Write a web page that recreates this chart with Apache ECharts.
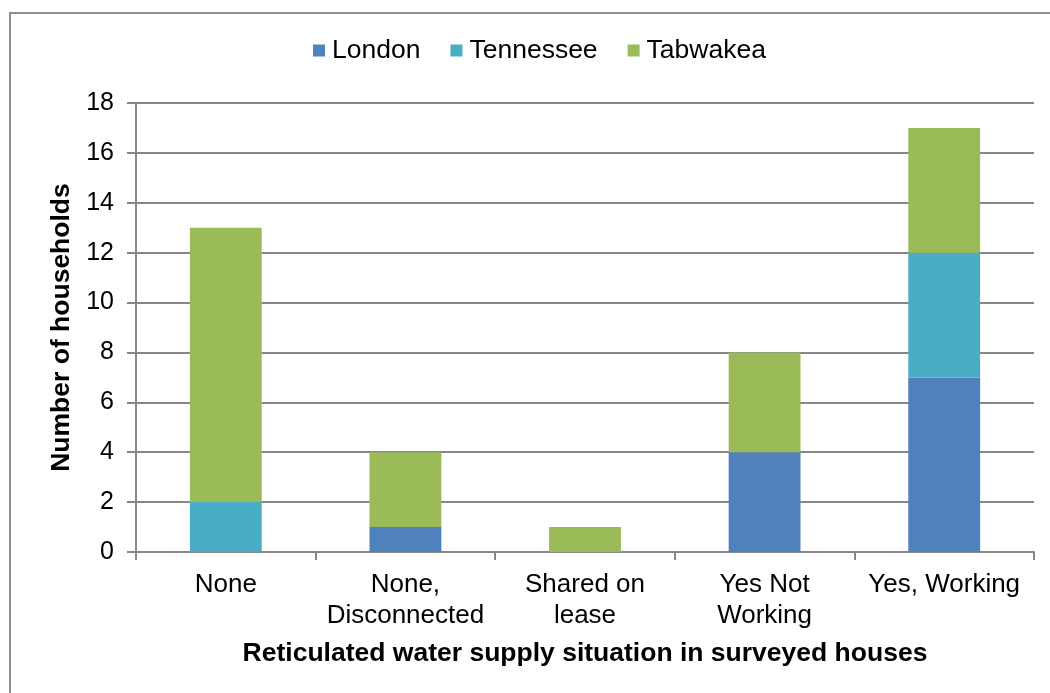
<!DOCTYPE html>
<html>
<head>
<meta charset="utf-8">
<script src="https://cdn.jsdelivr.net/npm/echarts@6/dist/echarts.min.js"></script>
<style>
  html, body { margin: 0; padding: 0; background: #fff; }
  #chart { width: 1050px; height: 693px; }
</style>
</head>
<body>
<div id="chart"></div>
<script>
// Household water supply situation by location
const categories = ['None', 'None,\nDisconnected', 'Shared on\nlease', 'Yes Not\nWorking', 'Yes, Working'];
const london = [0, 1, 0, 4, 7];
const tennessee = [2, 0, 0, 0, 5];
const tabwakea = [11, 3, 1, 4, 5];
const yTicks = { min: 0, max: 18, interval: 2 };

const font = '"Liberation Sans", Arial, sans-serif';
const axisGray = '#878787';

const chart = echarts.init(document.getElementById('chart'), null, { renderer: 'canvas' });

function barSeries(name, data, color) {
  return {
    name: name,
    type: 'bar',
    stack: 'total',
    data: data,
    barWidth: '40%',
    itemStyle: { color: color },
    emphasis: { disabled: true }
  };
}

chart.setOption({
  animation: false,
  backgroundColor: '#ffffff',
  textStyle: { fontFamily: font },
  graphic: [{
    type: 'rect',
    shape: { x: 10, y: 13, width: 1100, height: 760 },
    style: { fill: 'none', stroke: '#8f8f8f', lineWidth: 2 },
    silent: true
  }],
  legend: {
    left: 313,
    top: 37,
    padding: 0,
    itemWidth: 12,
    itemHeight: 12,
    itemGap: 30,
    icon: 'rect',
    textStyle: { fontFamily: font, fontSize: 26.5, color: '#000', padding: [0, 0, 0, 2] },
    data: ['London', 'Tennessee', 'Tabwakea']
  },
  grid: { left: 136, right: 16, top: 103, bottom: 141, containLabel: false },
  xAxis: {
    type: 'category',
    data: categories,
    name: 'Reticulated water supply situation in surveyed houses',
    nameLocation: 'middle',
    nameGap: 88,
    nameTextStyle: { fontFamily: font, fontSize: 26.5, fontWeight: 'bold', color: '#000' },
    axisLine: { lineStyle: { color: axisGray, width: 2 } },
    axisTick: { show: true, length: 8, alignWithLabel: false, lineStyle: { color: axisGray, width: 2 } },
    axisLabel: { fontFamily: font, fontSize: 26, color: '#000', margin: 17, lineHeight: 31, interval: 0 }
  },
  yAxis: {
    type: 'value',
    min: yTicks.min,
    max: yTicks.max,
    interval: yTicks.interval,
    name: 'Number of households',
    nameLocation: 'middle',
    nameRotate: 90,
    nameGap: 57,
    nameTextStyle: { fontFamily: font, fontSize: 26.5, fontWeight: 'bold', color: '#000' },
    axisLine: { show: true, lineStyle: { color: axisGray, width: 2 } },
    axisTick: { show: true, length: 9, lineStyle: { color: axisGray, width: 2 } },
    axisLabel: { fontFamily: font, fontSize: 25, color: '#000', margin: 22 },
    splitLine: { show: true, lineStyle: { color: axisGray, width: 2 } }
  },
  series: [
    barSeries('London', london, '#4F81BD'),
    barSeries('Tennessee', tennessee, '#4BACC6'),
    barSeries('Tabwakea', tabwakea, '#9BBB59')
  ]
});
</script>
</body>
</html>
